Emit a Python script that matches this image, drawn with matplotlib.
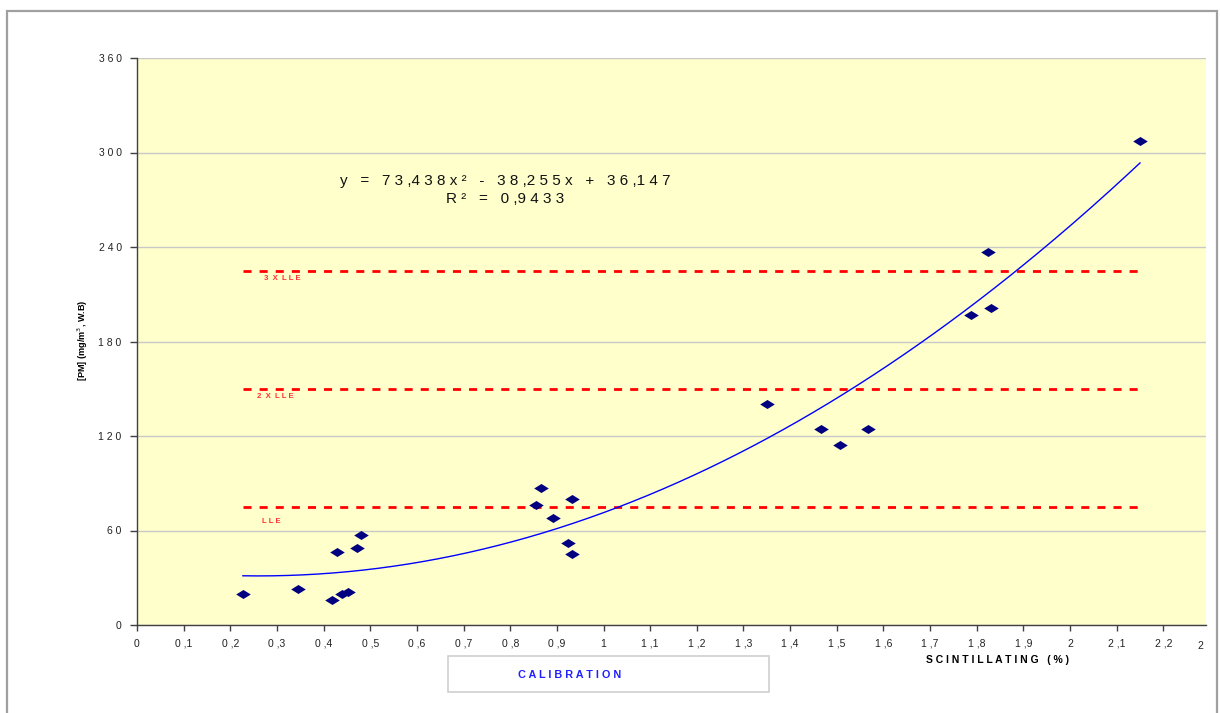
import numpy as np
import matplotlib
matplotlib.use("Agg")
import matplotlib.pyplot as plt
from matplotlib.patches import Rectangle
from matplotlib.path import Path

plt.rcParams['font.family'] = ['Liberation Sans', 'DejaVu Sans']

# Calibration measurements: scintillation (%) vs particulate matter (mg/m3)
scint = [0.227, 0.345, 0.418, 0.429, 0.439, 0.452, 0.472, 0.480,
         0.855, 0.866, 0.892, 0.924, 0.932, 0.932,
         1.350, 1.466, 1.507, 1.567,
         1.788, 1.824, 1.831, 2.150]
pm = [19.7, 22.9, 15.9, 46.3, 19.7, 21.0, 48.9, 57.1,
      76.2, 87.0, 68.0, 52.0, 80.0, 45.0,
      140.3, 124.4, 114.3, 124.4,
      196.8, 236.8, 201.3, 307.3]

# Quadratic trend coefficients
coef_a, coef_b, coef_c = 73.438, -38.255, 36.147
r_squared = 0.9433

# Limit levels
lle_levels = [75, 150, 225]
lle_labels = ["L L E", "2  X  L L E", "3  X  L L E"]

x_ticks = [i / 10 for i in range(0, 23)]
y_ticks = [0, 60, 120, 180, 240, 300, 360]
y_ticklabels = [" ".join(str(v)) for v in y_ticks]


def spaced_decimal(v):
    """Format a value with a comma decimal and wide letter spacing."""
    if abs(v - round(v)) < 1e-9:
        return str(int(round(v)))
    whole = int(v)
    dec = int(round((v - whole) * 10))
    return f"{whole} ,{dec}"


fig = plt.figure(figsize=(12.2, 7.13), dpi=100)
W, H = 1220, 713

# Outer chart frame
fig.patches.append(Rectangle((7 / W, -0.05), 1210 / W, 1 - 11 / H + 0.05,
                             transform=fig.transFigure, fill=False,
                             edgecolor="#a0a0a0", linewidth=1.6))

ax = fig.add_axes([137 / W, 1 - 625 / H, (1206 - 137) / W, (625 - 58) / H])
ax.set_facecolor("#ffffcc")
ax.set_xlim(0, 2.2915)
ax.set_ylim(0, 360)

for s in ["top", "right"]:
    ax.spines[s].set_visible(False)
for s in ["left", "bottom"]:
    ax.spines[s].set_color("#404040")
    ax.spines[s].set_linewidth(1.0)

ax.set_yticks(y_ticks)
ax.set_yticklabels(y_ticklabels, fontsize=7.5, color="#222222")
ax.set_xticks(x_ticks)
ax.set_xticklabels([spaced_decimal(t) for t in x_ticks], fontsize=7.5,
                   color="#222222")
ax.tick_params(axis="y", length=5, width=1, color="#404040", pad=6)
ax.tick_params(axis="x", length=4, width=1, color="#404040", pad=6)
ax.grid(axis="y", color="#c8c8c8", linewidth=1.0)
ax.set_axisbelow(True)

# Clipped label beyond the last tick
ax.text(2.28, -10, "2", fontsize=7.5, color="#222222", ha="center", va="top",
        clip_on=False)

# Limit lines
x_lo, x_hi = min(scint), max(scint)
for lvl in lle_levels:
    ax.plot([x_lo, x_hi], [lvl, lvl], color="#ff0000", linewidth=2.0,
            linestyle=(0, (2.9, 2.9)), zorder=3)
label_pos = {75: (0.268, -7), 150: (0.258, -3), 225: (0.272, -3)}
for lvl, lab in zip(lle_levels, lle_labels):
    ox, oy = label_pos[lvl]
    ax.text(ox, lvl + oy, lab, fontsize=5.6, color="#ff3333",
            fontweight="bold", ha="left", va="top")

# Trend curve
xs = np.linspace(x_lo, x_hi, 300)
ax.plot(xs, coef_a * xs ** 2 + coef_b * xs + coef_c, color="#0000ff",
        linewidth=1.0, zorder=4)

# Data points as flattened diamonds
diamond = Path([(-1, 0), (0, 0.62), (1, 0), (0, -0.62), (-1, 0)],
               [Path.MOVETO, Path.LINETO, Path.LINETO, Path.LINETO, Path.CLOSEPOLY])
ax.scatter(scint, pm, marker=diamond, s=110, color="#000080", zorder=5,
           linewidths=0)

# Equation text
eq_x = 0.789
ax.text(eq_x, 282.2,
        "y   =   7 3 ,4 3 8 x ²   -   3 8 ,2 5 5 x   +   3 6 ,1 4 7",
        fontsize=11, ha="center", va="center", color="#111111")
ax.text(eq_x, 270.2, "R ²   =   0 ,9 4 3 3",
        fontsize=11, ha="center", va="center", color="#111111")

# Axis titles
fig.text(83 / W, 1 - 340 / H, "[PM] (mg/m$^{3}$, W.B)", rotation=90,
         fontsize=6.6, fontweight="bold", ha="center", va="center")
fig.text(998 / W, 1 - 660 / H, "S C I N T I L L A T I N G   ( % )",
         fontsize=7.5, fontweight="bold", ha="center", va="center")

# Series caption box
fig.patches.append(Rectangle((448 / W, 1 - 692 / H), (769 - 448) / W, 36 / H,
                             transform=fig.transFigure, fill=True,
                             facecolor="white", edgecolor="#d0d0d0",
                             linewidth=1.2))
fig.text(570 / W, 1 - 675 / H, "C A L I B R A T I O N", fontsize=7.8,
         fontweight="bold", color="#2020ff", ha="center", va="center")

fig.savefig("out.png", dpi=100)
